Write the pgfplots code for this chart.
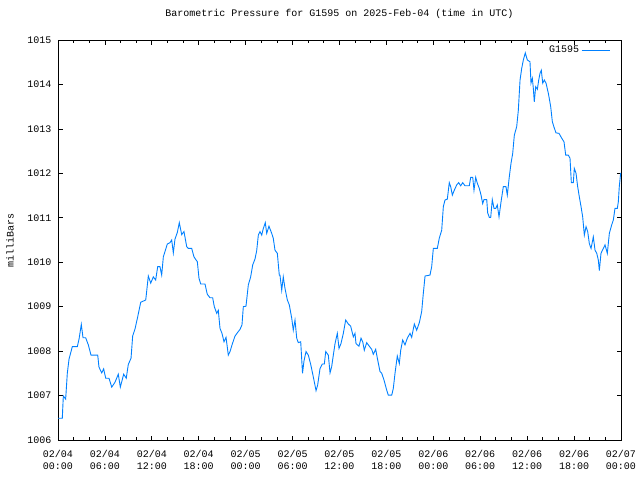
\documentclass[border=0pt]{standalone}
\usepackage{pgfplots}
\pgfplotsset{compat=1.18}
\usepackage{fontspec}
\setmainfont{Liberation Mono}
\definecolor{gpblue}{RGB}{0,128,255}
\begin{document}
\begin{tikzpicture}[x=1pt,y=1pt]
\path (0,0) rectangle (640,480);
\begin{axis}[
  at={(58pt,40pt)}, anchor=south west,
  scale only axis, width=563pt, height=400pt,
  xmin=0, xmax=72, ymin=1006, ymax=1015,
  xtick={0,6,...,72}, minor x tick num=2,
  ytick={1006,1007,...,1015},
  xticklabels={{02/04\\00:00},{02/04\\06:00},{02/04\\12:00},{02/04\\18:00},{02/05\\00:00},{02/05\\06:00},{02/05\\12:00},{02/05\\18:00},{02/06\\00:00},{02/06\\06:00},{02/06\\12:00},{02/06\\18:00},{02/07\\00:00}},
  tick align=inside, tick pos=both,
  major tick length=4.5pt, minor tick length=3pt,
  every tick/.style={black, line width=0.8pt},
  axis line style={black, line width=0.8pt},
  /pgf/number format/assume math mode=true,
  yticklabel={\pgfmathprintnumber[fixed,precision=0,1000 sep={}]{\tick}},
  font=\fontsize{10}{12}\selectfont,
  xticklabel style={align=center, font=\fontsize{10}{12}\selectfont, yshift=-7pt},
  yticklabel style={font=\fontsize{10}{12}\selectfont, xshift=-3pt},
  title={Barometric Pressure for G1595 on 2025-Feb-04 (time in UTC)},
  title style={at={(axis description cs:0.5,1.05)}, anchor=center, font=\fontsize{10}{12}\selectfont},
  ylabel={milliBars},
  ylabel style={at={(axis description cs:-0.0853,0.5)}, anchor=center, font=\fontsize{10}{12}\selectfont},
  legend plot pos=right,
  legend style={draw=none, fill=none, at={(axis description cs:0.981,0.974)}, anchor=east, inner sep=0pt, font=\fontsize{10}{12}\selectfont},
  legend image code/.code={\draw[#1] (0pt,0pt) -- (28pt,0pt);},
]
\addplot[gpblue, line width=0.9pt, sharp plot] table {
x y
0 1006.49
0.55 1006.49
0.68 1006.99
0.98 1006.92
1.19 1007.5
1.41 1007.82
1.83 1008.1
2.47 1008.1
2.69 1008.27
2.98 1008.6
3.20 1008.3
3.54 1008.3
3.88 1008.14
4.22 1007.91
5.08 1007.91
5.24 1007.64
5.59 1007.51
5.84 1007.6
6.10 1007.39
6.52 1007.39
6.87 1007.19
7.29 1007.3
7.71 1007.48
7.97 1007.19
8.40 1007.48
8.73 1007.39
8.99 1007.7
9.34 1007.84
9.55 1008.34
9.85 1008.5
10.19 1008.77
10.58 1009.1
11.22 1009.15
11.55 1009.69
11.86 1009.53
12.19 1009.67
12.49 1009.6
12.75 1009.9
13.04 1009.9
13.26 1009.71
13.47 1010.12
13.98 1010.41
14.32 1010.44
14.54 1010.5
14.75 1010.21
14.96 1010.52
15.26 1010.67
15.51 1010.89
15.82 1010.62
16.11 1010.69
16.46 1010.35
16.66 1010.31
17.10 1010.31
17.39 1010.12
17.82 1010.01
18.03 1009.64
18.25 1009.51
18.80 1009.51
19.09 1009.28
19.44 1009.2
19.78 1009.2
19.99 1009.0
20.30 1008.85
20.50 1008.92
20.72 1008.51
20.97 1008.4
21.23 1008.21
21.49 1008.31
21.78 1007.91
22.00 1007.99
22.29 1008.16
22.64 1008.34
22.93 1008.41
23.28 1008.49
23.53 1008.59
23.70 1009.0
24.04 1009.01
24.34 1009.49
24.64 1009.67
24.90 1009.94
25.19 1010.07
25.41 1010.26
25.62 1010.61
25.83 1010.69
26.05 1010.61
26.26 1010.76
26.51 1010.89
26.69 1010.65
26.98 1010.81
27.33 1010.65
27.53 1010.54
27.75 1010.27
28.05 1010.2
28.30 1009.71
28.39 1009.71
28.61 1009.37
28.81 1009.67
29.03 1009.41
29.33 1009.15
29.58 1009.04
29.89 1008.74
30.09 1008.47
30.31 1008.7
30.53 1008.29
30.73 1008.19
31.04 1008.21
31.27 1007.5
31.46 1007.78
31.72 1007.99
32.01 1007.91
32.32 1007.7
32.65 1007.42
33.00 1007.11
33.21 1007.24
33.51 1007.61
33.80 1007.71
34.06 1007.71
34.24 1007.99
34.57 1007.91
34.79 1007.51
35.00 1007.65
35.21 1007.91
35.43 1008.17
35.72 1008.4
35.94 1008.06
36.19 1008.17
36.49 1008.4
36.79 1008.7
37.13 1008.61
37.43 1008.56
37.77 1008.32
37.98 1008.4
38.11 1008.17
38.49 1008.11
38.75 1008.29
38.97 1008.21
39.17 1008.02
39.48 1008.19
39.81 1008.11
40.12 1008.04
40.32 1007.93
40.63 1008.04
40.84 1007.84
41.18 1007.54
41.40 1007.5
41.69 1007.35
42.04 1007.12
42.24 1007.01
42.68 1007.01
42.88 1007.16
43.10 1007.5
43.39 1007.89
43.65 1007.72
43.83 1008.02
44.08 1008.25
44.38 1008.14
44.67 1008.29
45.02 1008.4
45.23 1008.31
45.57 1008.61
45.87 1008.47
46.21 1008.64
46.51 1008.89
46.72 1009.3
46.94 1009.69
47.57 1009.71
47.79 1009.9
48.00 1010.31
48.51 1010.31
48.76 1010.54
49.07 1010.72
49.28 1011.25
49.49 1011.4
49.79 1011.42
50.04 1011.79
50.22 1011.7
50.43 1011.51
50.68 1011.62
50.99 1011.74
51.24 1011.79
51.50 1011.72
51.76 1011.79
52.05 1011.72
52.60 1011.72
52.78 1011.91
53.04 1011.91
53.20 1011.62
53.42 1011.91
53.62 1011.78
53.88 1011.66
54.10 1011.51
54.31 1011.32
54.48 1011.41
54.83 1011.41
54.95 1011.11
55.16 1011.01
55.34 1011.01
55.54 1011.41
55.76 1011.21
55.98 1011.21
56.18 1011.29
56.40 1011.02
56.66 1011.36
56.95 1011.7
57.29 1011.7
57.46 1011.51
57.72 1011.93
57.93 1012.22
58.15 1012.45
58.36 1012.86
58.66 1013.05
58.87 1013.42
59.09 1014.1
59.30 1014.36
59.51 1014.55
59.76 1014.71
60.02 1014.55
60.36 1014.51
60.49 1014.03
60.66 1014.14
60.79 1013.91
60.91 1013.61
61.09 1013.95
61.30 1013.89
61.48 1014.1
61.64 1014.25
61.81 1014.32
61.99 1014.03
62.19 1014.1
62.41 1014.03
62.71 1013.8
63.01 1013.5
63.22 1013.16
63.43 1013.04
63.69 1012.91
64.07 1012.9
64.42 1012.79
64.71 1012.71
64.93 1012.41
65.26 1012.41
65.48 1012.34
65.65 1011.79
65.90 1011.79
66.03 1012.11
66.25 1012.0
66.46 1011.7
66.67 1011.47
66.89 1011.25
67.10 1011.02
67.31 1010.61
67.53 1010.8
67.74 1010.69
67.95 1010.42
68.17 1010.31
68.46 1010.57
68.68 1010.27
68.90 1010.2
69.10 1010.05
69.23 1009.81
69.44 1010.2
69.74 1010.31
69.96 1010.39
70.25 1010.2
70.51 1010.65
70.81 1010.84
71.02 1010.95
71.23 1011.21
71.53 1011.21
71.66 1011.36
71.78 1011.7
71.96 1012.01
};
\addlegendentry{G1595}
\end{axis}
\end{tikzpicture}
\end{document}
